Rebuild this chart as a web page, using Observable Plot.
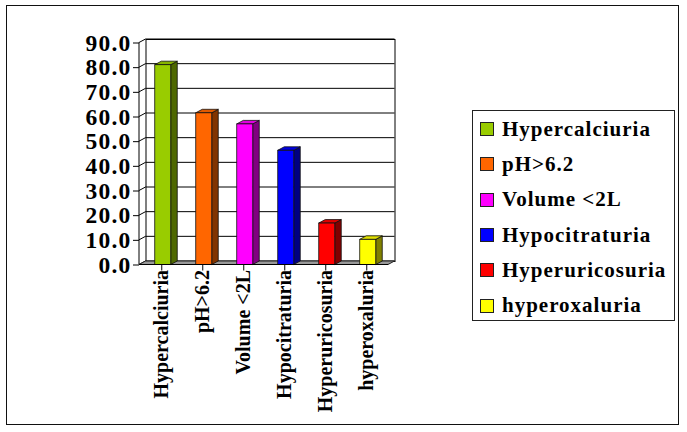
<!DOCTYPE html>
<html>
<head>
<meta charset="utf-8">
<script src="https://cdn.jsdelivr.net/npm/d3@7"></script>
<script src="https://cdn.jsdelivr.net/npm/@observablehq/plot@0.6"></script>
<style>
  html, body { margin: 0; padding: 0; background: #fff; }
  #wrap { position: relative; width: 687px; height: 432px; overflow: hidden; font-family: "Liberation Serif", "Times New Roman", serif; }
  #outer { position: absolute; left: 6px; top: 5px; width: 673px; height: 420px; border: 1.5px solid #111; box-sizing: border-box; }
  #chart { position: absolute; left: 0; top: 0; }
  #legend { position: absolute; left: 472px; top: 110px; width: 203px; height: 211px; border: 1px solid #222; box-sizing: border-box; padding-top: 0.5px; }
  .row { height: 35.3px; display: flex; align-items: center; }
  .sw { margin-left: 7px; width: 14px; height: 14px; border: 1px solid #222; box-sizing: border-box; flex: none; }
  .lab { margin-left: 8px; font-size: 21px; font-weight: bold; letter-spacing: 1px; color: #000; white-space: nowrap; }
  g[aria-label="y-axis tick label"] text { letter-spacing: 1.2px; }
</style>
</head>
<body>
<div id="wrap">
  <div id="outer"></div>
  <div id="chart"></div>
  <div id="legend"></div>
</div>
<script>
// ---- data ----
const categories = ["Hypercalciuria", "pH>6.2", "Volume <2L", "Hypocitraturia", "Hyperuricosuria", "hyperoxaluria"];
const values = [81.0, 61.5, 57.0, 46.3, 16.8, 10.2];
const colors = ["#99CC00", "#FF6600", "#FF00FF", "#0000FF", "#FF0000", "#FFFF00"];
const yTicks = [0, 10, 20, 30, 40, 50, 60, 70, 80, 90];

// ---- 3D look (style) ----
const DX = 6.5, DY = -3.5, BAR_W = 16;

function frameDims(d) {
  return {x0: d.marginLeft, x1: d.width - d.marginRight, y0: d.marginTop, y1: d.height - d.marginBottom};
}

const gridRender = (index, scales, v, dims) => {
  const {x0, x1} = frameDims(dims);
  const g = d3.create("svg:g");
  for (const i of index) {
    const y = v.y[i];
    g.append("path")
      .attr("d", `M${x0},${y}L${x0 + DX},${y + DY}L${x1 + DX},${y + DY}`)
      .attr("fill", "none").attr("stroke", "#000").attr("stroke-width", 1);
  }
  return g.node();
};

const floorRender = (index, scales, v, dims) => {
  const {x0, x1} = frameDims(dims);
  const g = d3.create("svg:g");
  const y = v.y[index[0]];
  g.append("path")
    .attr("d", `M${x0},${y}L${x1},${y}L${x1 + DX},${y + DY}L${x0 + DX},${y + DY}Z`)
    .attr("fill", "#999").attr("stroke", "#222").attr("stroke-width", 1);
  return g.node();
};

const axisLineRender = (index, scales, v, dims) => {
  const {x0, x1, y0, y1} = frameDims(dims);
  const g = d3.create("svg:g");
  g.append("path").attr("d", `M${x0},${y0}L${x0},${y1}L${x1},${y1}`)
    .attr("fill", "none").attr("stroke", "#000").attr("stroke-width", 1);
  return g.node();
};

const xTickRender = (index, scales, v, dims) => {
  const {x0, x1, y1} = frameDims(dims);
  const step = (x1 - x0) / categories.length;
  const g = d3.create("svg:g");
  const xs = [v.x[index[0]] - step / 2, ...Array.from(index, i => v.x[i] + step / 2)];
  for (const x of xs) {
    g.append("line").attr("x1", x).attr("x2", x).attr("y1", y1).attr("y2", y1 + 6)
      .attr("stroke", "#000").attr("stroke-width", 1);
  }
  return g.node();
};

const barRender = (index, scales, v, dims) => {
  const {x0, x1} = frameDims(dims);
  const step = (x1 - x0) / categories.length;
  const g = d3.create("svg:g");
  for (const i of index) {
    const a = v.x[i] + (step - BAR_W) / 2 + 1;
    const b = a + BAR_W;
    const yb = v.y1[i], yt = v.y2[i];
    const base = d3.color(colors[i]);
    const side = base.darker(1.9).formatHex();
    const top = base.darker(0.35).formatHex();
    g.append("path")
      .attr("d", `M${b},${yb}L${b + DX},${yb + DY}L${b + DX},${yt + DY}L${b},${yt}Z`)
      .attr("fill", side).attr("stroke", "#111").attr("stroke-width", 0.8);
    g.append("path")
      .attr("d", `M${a},${yt}L${a + DX},${yt + DY}L${b + DX},${yt + DY}L${b},${yt}Z`)
      .attr("fill", top).attr("stroke", "#111").attr("stroke-width", 0.8);
    g.append("rect")
      .attr("x", a).attr("y", yt).attr("width", BAR_W).attr("height", yb - yt)
      .attr("fill", colors[i]).attr("stroke", "#111").attr("stroke-width", 0.8);
  }
  return g.node();
};

const chart = Plot.plot({
  width: 687,
  height: 432,
  marginLeft: 139,
  marginRight: 299,
  marginTop: 42.5,
  marginBottom: 167.5,
  style: {fontFamily: "'Liberation Serif', 'Times New Roman', serif", background: "transparent", overflow: "visible", color: "#000"},
  x: {domain: categories, padding: 0, axis: null},
  y: {domain: [0, 90], axis: null},
  marks: [
    Plot.frame({fill: "#fff", stroke: "#000", dx: DX, dy: DY}),
    Plot.ruleY(yTicks, {y: d => d, render: gridRender}),
    Plot.ruleY([0], {y: d => d, render: floorRender}),
    Plot.barY(categories, {x: categories, y: values, render: barRender}),
    Plot.ruleY([0], {y: d => d, render: axisLineRender}),
    Plot.ruleX(categories, {x: d => d, render: xTickRender}),
    Plot.axisY({ticks: yTicks, tickFormat: d => d.toFixed(1), tickSize: 6, tickPadding: 2, fontSize: 23.5, fontWeight: "bold", label: null}),
    Plot.axisX({tickSize: 0, tickRotate: -90, tickPadding: 5, fontSize: 20, fontWeight: "bold", label: null})
  ]
});
document.getElementById("chart").appendChild(chart);

// ---- legend ----
const legend = d3.select("#legend");
categories.forEach((c, i) => {
  const row = legend.append("div").attr("class", "row");
  row.append("div").attr("class", "sw").style("background", colors[i]);
  row.append("div").attr("class", "lab").text(c);
});
</script>
</body>
</html>
